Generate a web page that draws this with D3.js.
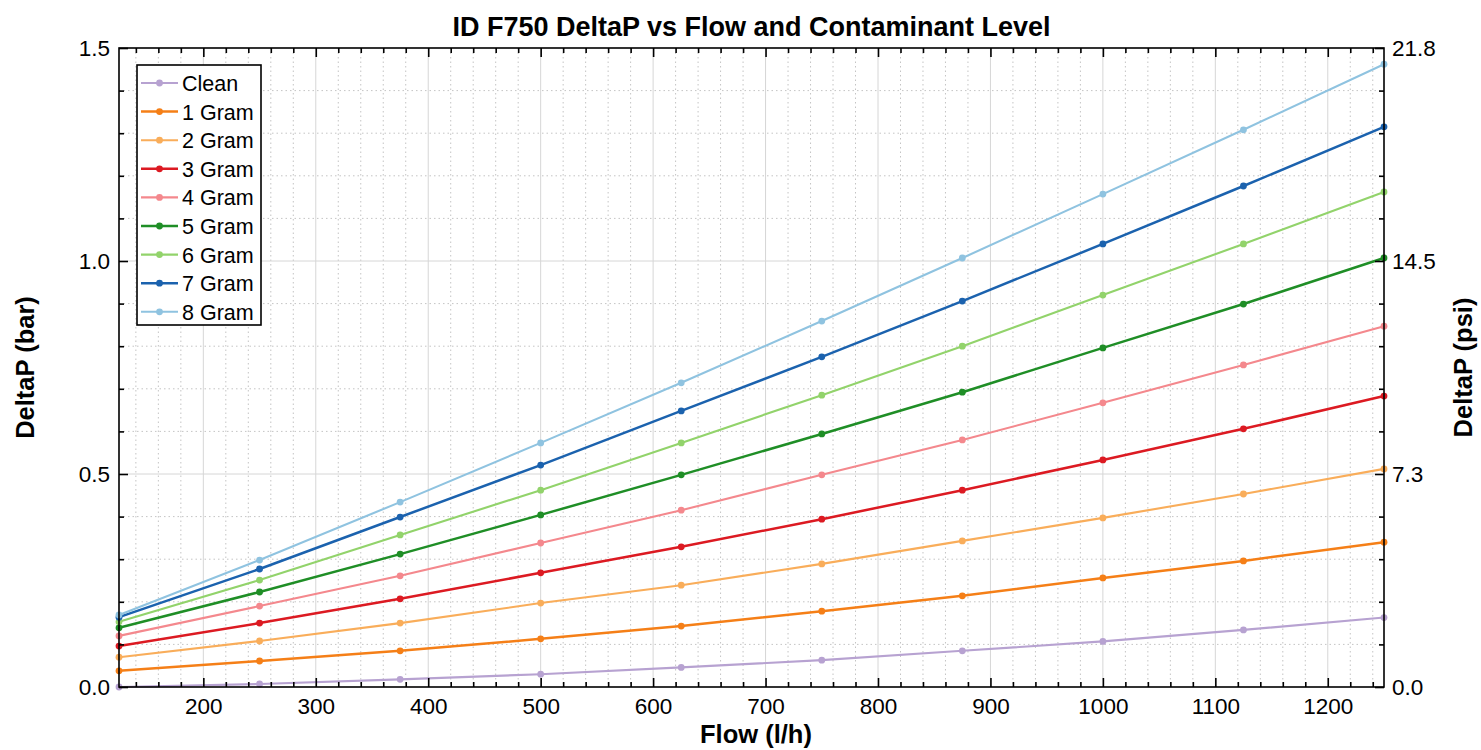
<!DOCTYPE html>
<html><head><meta charset="utf-8">
<script src="https://cdn.jsdelivr.net/npm/d3@7"></script>
<style>
body{margin:0;background:#fff;}
svg{display:block;font-family:"Liberation Sans",Arial,sans-serif;}
</style></head>
<body><svg id="c" width="1481" height="750"></svg>
<script>
const flows = [125, 250, 375, 500, 625, 750, 875, 1000, 1125, 1250];
const seriesNames = ["Clean","1 Gram","2 Gram","3 Gram","4 Gram","5 Gram","6 Gram","7 Gram","8 Gram"];
const seriesColors = ["#b7a2d1","#f57f17","#f9ad5a","#dc1a22","#f4888d","#1f8e26","#92d36b","#1b62ae","#8fc3e0"];
const clean  = [0.000,0.007,0.018,0.030,0.046,0.063,0.085,0.107,0.134,0.163];
const gram1  = [0.038,0.061,0.085,0.113,0.143,0.178,0.214,0.256,0.296,0.340];
const gram2  = [0.070,0.108,0.150,0.197,0.239,0.289,0.343,0.397,0.453,0.512];
const gram3  = [0.096,0.150,0.207,0.268,0.329,0.394,0.462,0.533,0.606,0.683];
const gram4  = [0.120,0.190,0.261,0.338,0.415,0.498,0.580,0.667,0.756,0.847];
const gram5  = [0.139,0.223,0.312,0.404,0.498,0.594,0.692,0.796,0.899,1.007];
const gram6  = [0.153,0.251,0.357,0.462,0.573,0.685,0.800,0.920,1.040,1.162];
const gram7  = [0.164,0.277,0.399,0.521,0.648,0.775,0.906,1.040,1.176,1.315];
const gram8  = [0.169,0.298,0.434,0.573,0.714,0.859,1.007,1.157,1.308,1.462];
const seriesValues = [clean,gram1,gram2,gram3,gram4,gram5,gram6,gram7,gram8];
const xTicks = [200,300,400,500,600,700,800,900,1000,1100,1200];
const yTicks = [0,0.5,1.0,1.5];
const psiTickLabels = ["0.0","7.3","14.5","21.8"];
const title = "ID F750 DeltaP vs Flow and Contaminant Level";

const svg = d3.select("#c");
const L=119, R=1384, T=48, B=687;
const x = d3.scaleLinear().domain([125,1250]).range([L,R]);
const y = d3.scaleLinear().domain([0,1.5]).range([B,T]);

const xMinor = d3.range(140,1250,20).filter(v=>v%100!==0);
const yMinor = d3.range(1,15).map(i=>i/10).filter(v=>Math.abs(v*2-Math.round(v*2))>1e-6);

const g = svg.append("g");
// minor grid (dotted)
g.selectAll(".mgx").data(xMinor).join("line")
 .attr("x1",d=>x(d)).attr("x2",d=>x(d)).attr("y1",T).attr("y2",B)
 .attr("stroke","#c4c4c4").attr("stroke-width",1).attr("stroke-dasharray","1.5,3");
g.selectAll(".mgy").data(yMinor).join("line")
 .attr("x1",L).attr("x2",R).attr("y1",d=>y(d)).attr("y2",d=>y(d))
 .attr("stroke","#c4c4c4").attr("stroke-width",1).attr("stroke-dasharray","1.5,3");
// major grid
g.selectAll(".gx").data(xTicks).join("line")
 .attr("x1",d=>x(d)).attr("x2",d=>x(d)).attr("y1",T).attr("y2",B)
 .attr("stroke","#d6d6d6").attr("stroke-width",1);
g.selectAll(".gy").data(yTicks.slice(1,3)).join("line")
 .attr("x1",L).attr("x2",R).attr("y1",d=>y(d)).attr("y2",d=>y(d))
 .attr("stroke","#d6d6d6").attr("stroke-width",1);

// series
const line = d3.line().x((d,i)=>x(flows[i])).y(d=>y(d));
seriesValues.forEach((vals,k)=>{
  const sg = svg.append("g");
  const thick = [1,3,5,7].includes(k) ? 2.5 : 2.1;
  sg.append("path").datum(vals).attr("d",line).attr("fill","none")
    .attr("stroke",seriesColors[k]).attr("stroke-width",thick);
  sg.selectAll("circle").data(vals).join("circle")
    .attr("cx",(d,i)=>x(flows[i])).attr("cy",d=>y(d)).attr("r",3.4)
    .attr("fill",seriesColors[k]);
});

// axes box
svg.append("rect").attr("x",L).attr("y",T).attr("width",R-L).attr("height",B-T)
 .attr("fill","none").attr("stroke","#000").attr("stroke-width",1.6);

// axes with inward ticks
const fs = "22.5px";
const xAxisB = d3.axisBottom(x).tickValues(xTicks).tickSize(-9).tickPadding(11).tickFormat(d=>String(d));
svg.append("g").attr("transform",`translate(0,${B})`).call(xAxisB);
svg.append("g").attr("transform",`translate(0,${B})`).call(d3.axisBottom(x).tickValues(xMinor).tickSize(-5).tickFormat(""));
svg.append("g").attr("transform",`translate(0,${T})`).call(d3.axisTop(x).tickValues(xTicks).tickSize(-9).tickFormat(""));
svg.append("g").attr("transform",`translate(0,${T})`).call(d3.axisTop(x).tickValues(xMinor).tickSize(-5).tickFormat(""));

const yAxisL = d3.axisLeft(y).tickValues(yTicks).tickSize(-9).tickPadding(9).tickFormat(d3.format(".1f"));
svg.append("g").attr("transform",`translate(${L},0)`).call(yAxisL);
svg.append("g").attr("transform",`translate(${L},0)`).call(d3.axisLeft(y).tickValues(yMinor).tickSize(-5).tickFormat(""));
const yAxisR = d3.axisRight(y).tickValues(yTicks).tickSize(-9).tickPadding(8).tickFormat((d,i)=>psiTickLabels[i]);
svg.append("g").attr("transform",`translate(${R},0)`).call(yAxisR);
svg.append("g").attr("transform",`translate(${R},0)`).call(d3.axisRight(y).tickValues(yMinor).tickSize(-5).tickFormat(""));

svg.selectAll(".domain").remove();
svg.selectAll(".tick line").attr("stroke","#000").attr("stroke-width",1.6);
svg.selectAll(".tick text").attr("font-size",fs).attr("fill","#000")
  .attr("font-family","'Liberation Sans',Arial,sans-serif");

// titles
svg.append("text").attr("x",751.5).attr("y",36).attr("text-anchor","middle")
 .attr("font-size","27px").attr("font-weight","bold").text(title);
svg.append("text").attr("x",756).attr("y",743).attr("text-anchor","middle")
 .attr("font-size","25.5px").attr("font-weight","bold").text("Flow (l/h)");
svg.append("text").attr("transform",`translate(34,${(T+B)/2}) rotate(-90)`).attr("text-anchor","middle")
 .attr("font-size","25.5px").attr("font-weight","bold").text("DeltaP (bar)");
svg.append("text").attr("transform",`translate(1472,${(T+B)/2}) rotate(-90)`).attr("text-anchor","middle")
 .attr("font-size","25.5px").attr("font-weight","bold").text("DeltaP (psi)");

// legend
const lg = svg.append("g");
lg.append("rect").attr("x",137).attr("y",65).attr("width",124).attr("height",260)
 .attr("fill","#fff").attr("stroke","#000").attr("stroke-width",1.6);
seriesNames.forEach((n,k)=>{
  const yy = 83 + k*28.6;
  const thick = [1,3,5,7].includes(k) ? 2.5 : 2.1;
  lg.append("line").attr("x1",141).attr("x2",178).attr("y1",yy).attr("y2",yy)
    .attr("stroke",seriesColors[k]).attr("stroke-width",thick);
  lg.append("circle").attr("cx",159.5).attr("cy",yy).attr("r",3.4).attr("fill",seriesColors[k]);
  lg.append("text").attr("x",182).attr("y",yy+8).attr("font-size","21.5px").text(n);
});
</script></body></html>
